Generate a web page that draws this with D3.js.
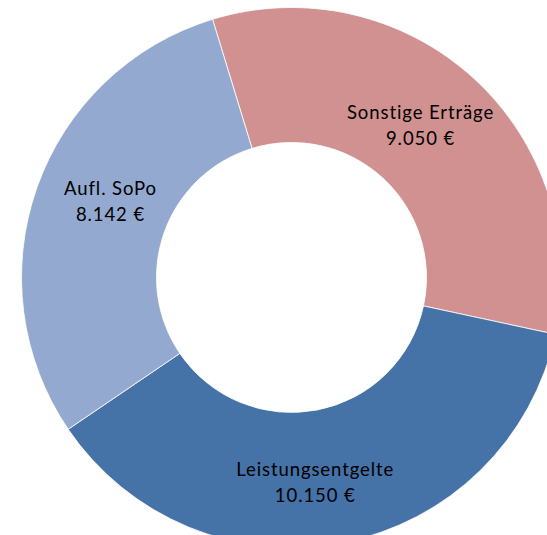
<!DOCTYPE html>
<html>
<head>
<meta charset="utf-8">
<script src="https://cdn.jsdelivr.net/npm/d3@7"></script>
<style>
  html, body { margin: 0; padding: 0; background: #fff; }
  svg { display: block; }
  .lbl { font-family: Lato, "Open Sans", sans-serif; font-size: 18.5px; letter-spacing: 0.9px; fill: #000; }
</style>
</head>
<body>
<svg width="547" height="535"></svg>
<script>
// Data
var categories = ["Sonstige Erträge", "Leistungsentgelte", "Aufl. SoPo"];
var values = [9050, 10150, 8142];
var valueLabels = ["9.050 €", "10.150 €", "8.142 €"];
var colors = ["#D09190", "#4572A7", "#94A9CF"];

// Layout
var CX = 291.5, CY = 277.5;
var OUTER_R = 270, INNER_R = 135;
var START_DEG = -17;
var LINE_GAP = 26;
// small nudges so labels sit where the original puts them
var labelNudge = [[-8, -2], [-15, 7], [10, -8]];

var svg = d3.select("svg");

var pie = d3.pie()
	.sort(null)
	.startAngle(START_DEG * Math.PI / 180)
	.endAngle((START_DEG + 360) * Math.PI / 180);

var arc = d3.arc()
	.innerRadius(INNER_R)
	.outerRadius(OUTER_R);

var slices = pie(values);

var g = svg.append("g")
	.attr("transform", "translate(" + CX + "," + CY + ")");

g.selectAll("path")
	.data(slices)
	.enter().append("path")
	.attr("d", arc)
	.attr("fill", (d, i) => colors[i])
	.attr("stroke", "#fff")
	.attr("stroke-width", 0.8);

var labels = g.selectAll("text")
	.data(slices)
	.enter().append("text")
	.attr("class", "lbl")
	.attr("text-anchor", "middle")
	.attr("transform", (d, i) => {
		var c = arc.centroid(d);
		return "translate(" + (c[0] + labelNudge[i][0]) + "," + (c[1] + labelNudge[i][1]) + ")";
	});

labels.append("tspan")
	.attr("x", 0)
	.attr("dy", -LINE_GAP / 2 + 6)
	.text((d, i) => categories[i]);

labels.append("tspan")
	.attr("x", 0)
	.attr("dy", LINE_GAP)
	.text((d, i) => valueLabels[i]);
</script>
</body>
</html>
